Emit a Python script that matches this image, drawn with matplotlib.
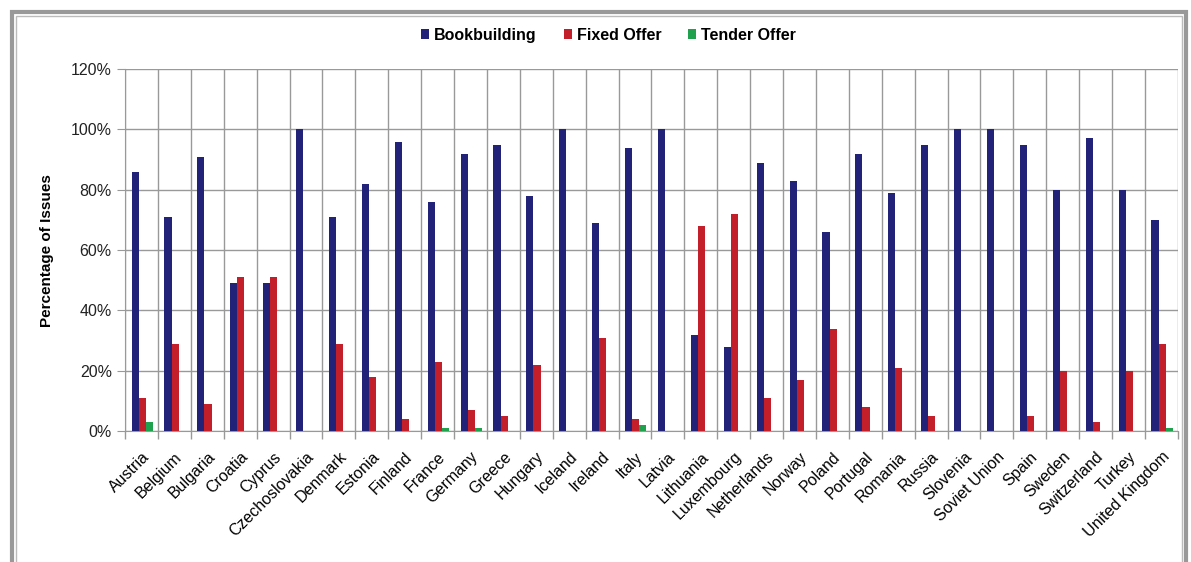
import numpy as np
import matplotlib.pyplot as plt
from matplotlib.patches import Patch, Rectangle
from matplotlib.ticker import PercentFormatter

plt.rcParams['font.family'] = ['Liberation Sans', 'DejaVu Sans']

countries = ['Austria', 'Belgium', 'Bulgaria', 'Croatia', 'Cyprus', 'Czechoslovakia',
             'Denmark', 'Estonia', 'Finland', 'France', 'Germany', 'Greece', 'Hungary',
             'Iceland', 'Ireland', 'Italy', 'Latvia', 'Lithuania', 'Luxembourg',
             'Netherlands', 'Norway', 'Poland', 'Portugal', 'Romania', 'Russia',
             'Slovenia', 'Soviet Union', 'Spain', 'Sweden', 'Switzerland', 'Turkey',
             'United Kingdom']
bookbuilding = [86, 71, 91, 49, 49, 100, 71, 82, 96, 76, 92, 95, 78, 100, 69, 94, 100,
                32, 28, 89, 83, 66, 92, 79, 95, 100, 100, 95, 80, 97, 80, 70]
fixed_offer = [11, 29, 9, 51, 51, 0, 29, 18, 4, 23, 7, 5, 22, 0, 31, 4, 0,
               68, 72, 11, 17, 34, 8, 21, 5, 0, 0, 5, 20, 3, 20, 29]
tender_offer = [3, 0, 0, 0, 0, 0, 0, 0, 0, 1, 1, 0, 0, 0, 0, 2, 0,
                0, 0, 0, 0, 0, 0, 0, 0, 0, 0, 0, 0, 0, 0, 1]

labels = ['Bookbuilding', 'Fixed Offer', 'Tender Offer']
colors = ['#222278', '#C21F2A', '#1FA14E']

fig = plt.figure(figsize=(11.91, 5.62), dpi=100)
ax = fig.add_axes([0.105, 0.233, 0.884, 0.644])

n = len(countries)
x = np.arange(n)
w = 0.215
for i, vals in enumerate([bookbuilding, fixed_offer, tender_offer]):
  ax.bar(x + (i - 1) * w + 0.02, vals, w, color=colors[i], zorder=3)

ax.set_xlim(-0.5, n - 0.5)
ax.set_ylim(0, 120)
ax.set_yticks(np.arange(0, 121, 20))
ax.yaxis.set_major_formatter(PercentFormatter(decimals=0))
ax.set_xticks(x)
ax.set_xticklabels(countries, rotation=45, ha='right', rotation_mode='anchor', fontsize=11.5)
ax.set_xticks(np.arange(-0.5, n, 1), minor=True)
ax.tick_params(axis='x', which='major', length=0, pad=13)
ax.tick_params(axis='x', which='minor', length=6, color='#999999', width=1)
ax.tick_params(axis='y', length=6, color='#999999', labelsize=11.5, labelcolor='#222222')
ax.grid(axis='y', color='#999999', linewidth=1, zorder=0)
ax.grid(axis='x', which='minor', color='#999999', linewidth=1, zorder=0)
for s in ['top', 'right']:
  ax.spines[s].set_visible(False)
for s in ['left', 'bottom']:
  ax.spines[s].set_color('#999999')
ax.set_ylabel('Percentage of Issues', fontsize=11, fontweight='bold', labelpad=12)

handles = [Patch(facecolor=c, label=l) for c, l in zip(colors, labels)]
fig.legend(handles=handles, loc='center', bbox_to_anchor=(0.511, 0.937), ncol=3,
           frameon=False, handlelength=0.5, handleheight=0.6, handletextpad=0.3,
           columnspacing=1.7, prop={'size': 11.5, 'weight': 'bold'})

# outer frame of the embedded chart
fig.patches.append(Rectangle((12 / 1191, -0.1), 1174 / 1191, 1.1 - 12 / 562,
                             transform=fig.transFigure, fill=False,
                             edgecolor='#999999', linewidth=3))
fig.patches.append(Rectangle((16 / 1191, -0.1), 1166 / 1191, 1.1 - 16 / 562,
                             transform=fig.transFigure, fill=False,
                             edgecolor='#bbbbbb', linewidth=1))

fig.savefig('out.png', dpi=100)
